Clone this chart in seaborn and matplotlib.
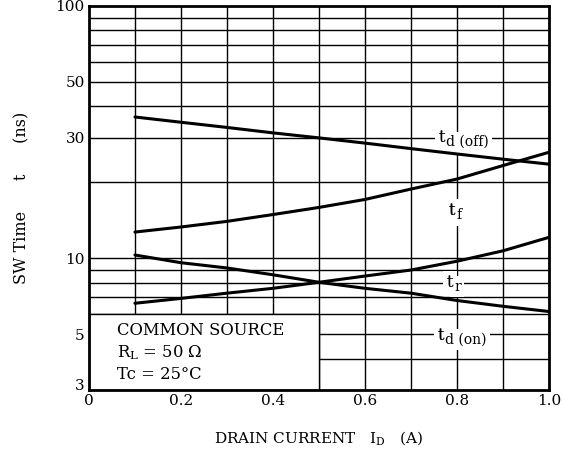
import pandas as pd
import matplotlib.pyplot as plt
import seaborn as sns
from matplotlib.patches import Rectangle

# drain current (A) and switching times (ns)
current = [0.1, 0.2, 0.3, 0.4, 0.5, 0.6, 0.7, 0.8, 0.9, 1.0]
td_off = [36.3, 34.6, 33.0, 31.4, 30.0, 28.6, 27.2, 25.9, 24.7, 23.6]
t_f = [12.7, 13.3, 14.0, 14.9, 15.9, 17.1, 18.8, 20.6, 23.3, 26.3]
t_r = [6.63, 6.93, 7.27, 7.6, 8.03, 8.5, 8.98, 9.73, 10.7, 12.1]
td_on = [10.3, 9.6, 9.15, 8.6, 8.03, 7.6, 7.27, 6.8, 6.45, 6.15]

y_grid = [4, 5, 6, 7, 8, 9, 10, 20, 30, 40, 50, 60, 70, 80, 90]
y_labeled = {3: '3', 5: '5', 10: '10', 30: '30', 50: '50', 100: '100'}
x_grid = [0.1, 0.2, 0.3, 0.4, 0.5, 0.6, 0.7, 0.8, 0.9]
x_labeled = {0: '0', 0.2: '0.2', 0.4: '0.4', 0.6: '0.6', 0.8: '0.8', 1.0: '1.0'}

sns.set_style('white')
plt.rcParams['font.family'] = ['DejaVu Serif']
plt.rcParams['mathtext.fontset'] = 'dejavuserif'
plt.rcParams['text.color'] = 'black'
plt.rcParams['axes.labelcolor'] = 'black'
plt.rcParams['xtick.color'] = 'black'
plt.rcParams['ytick.color'] = 'black'

df = pd.DataFrame({'I_D': current * 4,
                   't': td_off + t_f + t_r + td_on,
                   'curve': ['td_off'] * 10 + ['t_f'] * 10 + ['t_r'] * 10 + ['td_on'] * 10})

fig = plt.figure(figsize=(5.63, 4.59), dpi=100)
ax = fig.add_axes([0.158, 0.150, 0.817, 0.837])
ax.set_yscale('log')
ax.set_xlim(0, 1.0)
ax.set_ylim(3, 100)

# grid
for v in x_grid:
    ax.axvline(v, color='black', lw=1.0, zorder=1)
for v in y_grid:
    ax.axhline(v, color='black', lw=1.0, zorder=1)

# conditions box covers the lower-left grid
ax.add_patch(Rectangle((0, 3), 0.5, 3, facecolor='white', edgecolor='black', lw=1.0, zorder=2))
ax.text(0.062, 5.6, 'COMMON SOURCE\n$\\mathregular{R_L}$ = 50 Ω\nTc = 25°C',
        fontsize=11.8, va='top', ha='left', linespacing=1.3, zorder=3)

sns.lineplot(data=df, x='I_D', y='t', units='curve', estimator=None, color='black',
             lw=2.2, ax=ax, zorder=4)

box = dict(facecolor='white', edgecolor='none', pad=2.5)


def curve_label(x, y, sub):
    # big "t" with a slightly smaller, lowered subscript, on a white patch
    ax.annotate('t', (x, y), fontsize=12, ha='right', va='center', bbox=box, zorder=2.9)
    ax.annotate(sub, (x, y), xytext=(0.5, -3), textcoords='offset points',
                fontsize=10, ha='left', va='center', bbox=box, zorder=3)
    ax.annotate('t', (x, y), fontsize=12, ha='right', va='center', zorder=3.5)


curve_label(0.774, 30, 'd (off)')
curve_label(0.797, 15.4, 'f')
curve_label(0.792, 8.0, 'r')
curve_label(0.773, 4.95, 'd (on)')

ax.set_yticks(list(y_labeled.keys()))
ax.set_yticklabels(list(y_labeled.values()))
ax.minorticks_off()
ax.set_xticks(list(x_labeled.keys()))
ax.set_xticklabels(list(x_labeled.values()))
ax.tick_params(length=0, labelsize=11, pad=3)
ax.get_yticklabels()[0].set_va('baseline')

for s in ax.spines.values():
    s.set_linewidth(2)
    s.set_color('black')

ax.set_xlabel('DRAIN CURRENT   $\\mathregular{I_D}$   (A)', fontsize=11, labelpad=15)
ax.set_ylabel('SW Time      t      (ns)', fontsize=11.5, labelpad=18)

fig.savefig('out.png', dpi=100)
